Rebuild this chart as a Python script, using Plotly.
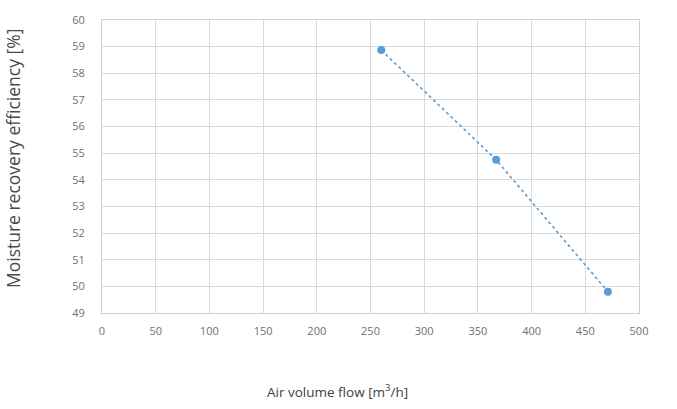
import plotly.graph_objects as go

air_flow = [260, 367, 471]
moisture_eff = [58.87, 54.75, 49.8]
x_ticks = [0, 50, 100, 150, 200, 250, 300, 350, 400, 450, 500]
y_ticks = [49, 50, 51, 52, 53, 54, 55, 56, 57, 58, 59, 60]

fig = go.Figure()
fig.add_trace(go.Scatter(
    x=air_flow, y=moisture_eff, mode="lines+markers",
    line=dict(color="#5b9bd5", width=1.6, dash="dot"),
    marker=dict(color="#5b9bd5", size=8),
    showlegend=False,
))

tickfont = dict(family="Open Sans", size=11, color="#707070")
fig.update_layout(
    width=677, height=409,
    margin=dict(l=102, r=38, t=18, b=96),
    paper_bgcolor="white", plot_bgcolor="white",
    font=dict(family="Open Sans"),
    xaxis=dict(range=[0, 500], tickvals=x_ticks, showgrid=True, gridcolor="#dadada",
               gridwidth=1, zeroline=False, showline=True, linecolor="#d0d0d0",
               mirror=True, tickfont=tickfont, ticks="", ticklabelstandoff=8),
    yaxis=dict(range=[49, 60], tickvals=y_ticks, showgrid=True, gridcolor="#dadada",
               gridwidth=1, zeroline=False, showline=True, linecolor="#d0d0d0",
               mirror=True, tickfont=tickfont, ticks="", ticklabelstandoff=14),
    annotations=[
        dict(text="Air volume flow [m<sup>3</sup>/h]", xref="paper", yref="paper",
             x=(337 - 102) / 537, y=-(392 - 313) / 295, xanchor="center", yanchor="middle",
             showarrow=False, font=dict(family="Open Sans", size=13.5, color="#404040")),
        dict(text="Moisture recovery efficiency [%]", xref="paper", yref="paper",
             x=-(102 - 13) / 537, y=(313 - 158) / 295, xanchor="center", yanchor="middle",
             textangle=-90, showarrow=False,
             font=dict(family="Open Sans", size=17.5, color="#4a4a4a")),
    ],
)
fig.write_html("out.html", post_script="document.body.style.margin='0';",
               config={"displayModeBar": False})
